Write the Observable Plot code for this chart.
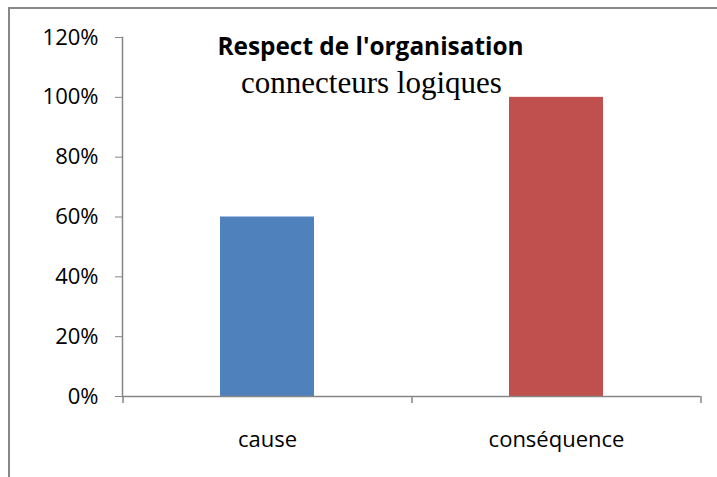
<!DOCTYPE html>
<html>
<head>
<meta charset="utf-8">
<script src="https://cdn.jsdelivr.net/npm/d3@7"></script>
<script src="https://cdn.jsdelivr.net/npm/@observablehq/plot@0.6"></script>
<style>
  body { margin: 0; background: #fff; }
  #wrap { position: relative; width: 717px; height: 477px; overflow: hidden; background: #fff; }
  #border { position: absolute; left: 8px; top: 7px; width: 800px; height: 600px; border: 2px solid #878787; box-sizing: border-box; }
  #chart { position: absolute; left: 0; top: 0; }
</style>
</head>
<body>
<div id="wrap"><div id="border"></div><div id="chart"></div></div>
<script>
const categories = ["cause", "conséquence"];
const values = [0.60, 1.00];
const colors = ["#4F81BD", "#C0504D"];
const yTicks = [0, 0.2, 0.4, 0.6, 0.8, 1.0, 1.2];
const title = "Respect de l'organisation";
const subtitle = "connecteurs logiques";

const data = categories.map((c, i) => ({category: c, value: values[i], color: colors[i]}));

const W = 717, H = 477, mL = 122, mR = 17, mT = 37, mB = 81;
const step = (W - mL - mR) / categories.length;
const gray = "#868686";

const chart = Plot.plot({
  width: W, height: H,
  marginLeft: mL, marginRight: mR, marginTop: mT, marginBottom: mB,
  style: {fontFamily: "'Open Sans'", fontSize: "22px", color: "#000", background: "transparent", overflow: "visible"},
  x: {domain: categories, paddingInner: 0.676, paddingOuter: 0.338, label: null},
  y: {domain: [0, 1.2], label: null},
  color: {type: "identity"},
  marks: [
    Plot.barY(data, {x: "category", y: "value", fill: "color"}),
    Plot.ruleY([0], {stroke: gray, strokeWidth: 1.5}),
    Plot.frame({anchor: "left", stroke: gray, strokeWidth: 1.5}),
    Plot.ruleX(categories, {x: d => d, dx: -step / 2, y1: 0, y2: 0, insetBottom: -7, stroke: gray, strokeWidth: 1.5}),
    Plot.ruleX([categories[categories.length - 1]], {x: d => d, dx: step / 2, y1: 0, y2: 0, insetBottom: -7, stroke: gray, strokeWidth: 1.5}),
    Plot.axisY({ticks: yTicks, tickFormat: d3.format(".0%"), tickSize: 7, tickPadding: 17, stroke: gray, fill: "#000", fontSize: 22}),
    Plot.axisX({tickSize: 0, tickPadding: 35, fill: "#000", fontSize: 22}),
    Plot.text([title], {text: d => d, frameAnchor: "top", dx: -41, dy: 17, lineAnchor: "bottom", fontWeight: "bold", fontSize: 24.4, fontFamily: "'Open Sans'", fill: "#000"}),
    Plot.text([subtitle], {text: d => d, frameAnchor: "top", dx: -40, dy: 55, lineAnchor: "bottom", fontSize: 31, fontFamily: "'Liberation Serif'", fill: "#000"})
  ]
});
document.getElementById("chart").appendChild(chart);
</script>
</body>
</html>
